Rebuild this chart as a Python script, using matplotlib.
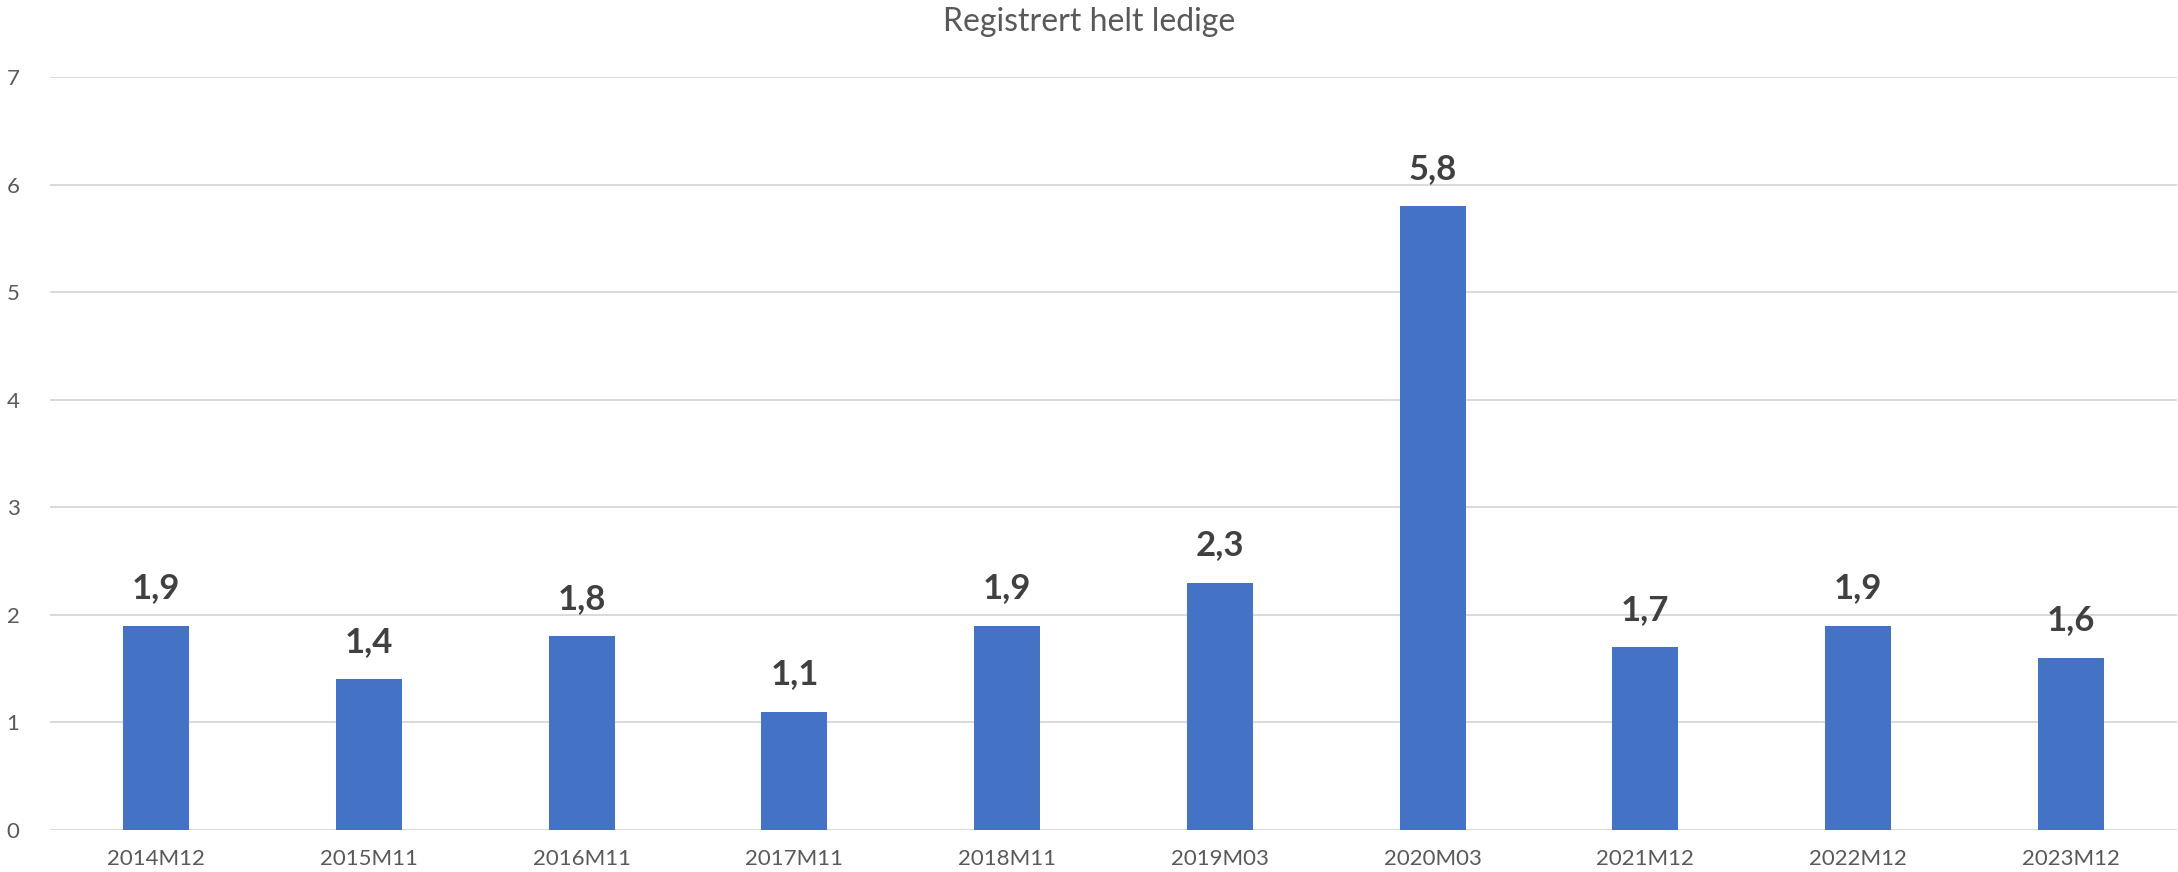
import matplotlib.pyplot as plt
import numpy as np

plt.rcParams['font.family'] = ['Lato', 'DejaVu Sans']

categories = ["2014M12", "2015M11", "2016M11", "2017M11", "2018M11",
              "2019M03", "2020M03", "2021M12", "2022M12", "2023M12"]
values = [1.9, 1.4, 1.8, 1.1, 1.9, 2.3, 5.8, 1.7, 1.9, 1.6]
labels = ["1,9", "1,4", "1,8", "1,1", "1,9", "2,3", "5,8", "1,7", "1,9", "1,6"]

fig = plt.figure(figsize=(21.78, 8.72), dpi=100)
ax = fig.add_axes([50/2178, 1 - 830/872, 2127/2178, (830 - 77)/872])

x = np.arange(len(categories))
ax.bar(x, values, width=0.31, color='#4472C4', zorder=3)
for xi, v, lab in zip(x, values, labels):
    ax.text(xi, v + 0.2, lab, ha='center', va='bottom', fontsize=25,
            fontweight='bold', color='#404040')

ax.set_xlim(-0.5, len(categories) - 0.5)
ax.set_ylim(0, 7)
ax.set_yticks(range(0, 8))
ax.set_xticks(x)
ax.set_xticklabels(categories)
ax.tick_params(axis='both', length=0, labelsize=16, colors='#595959')
ax.tick_params(axis='y', pad=22)
ax.tick_params(axis='x', pad=14)
ax.grid(axis='y', color='#D9D9D9', linewidth=1.4, zorder=0)
for s in ax.spines.values():
    s.set_visible(False)

fig.text(0.5, 1 - 22/872, "Registrert helt ledige", ha='center', va='center',
         fontsize=23, color='#595959')

fig.savefig('out.png', dpi=100)
